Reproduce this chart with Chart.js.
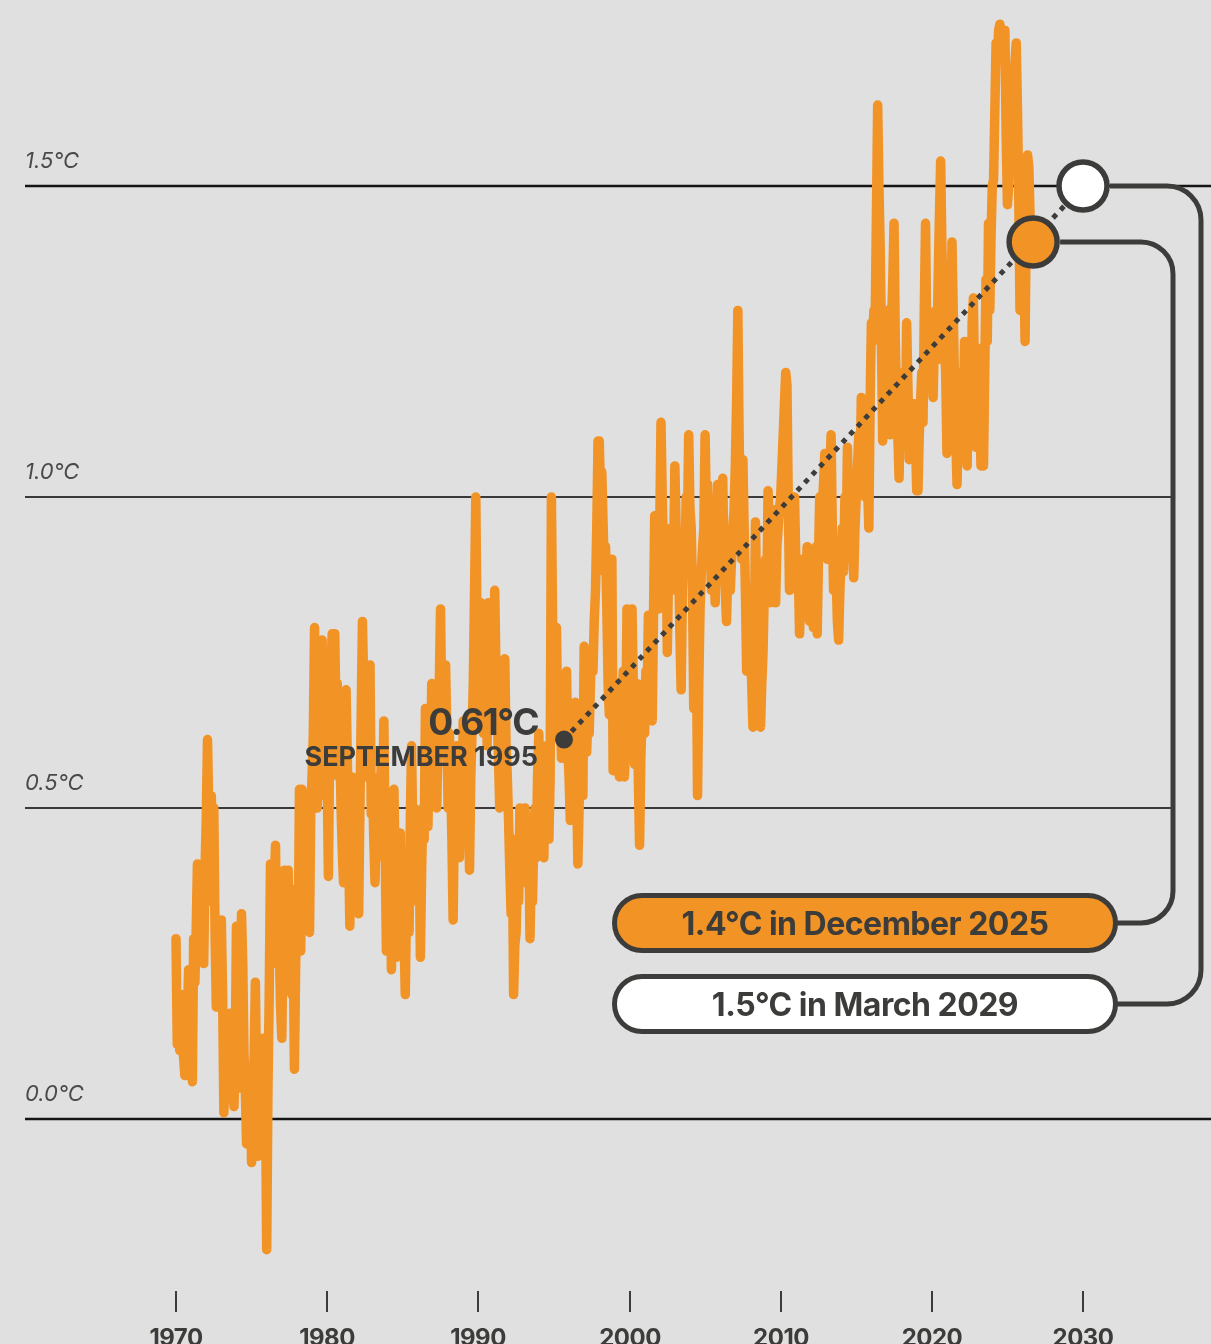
<!DOCTYPE html>
<html>
<head>
<meta charset="utf-8">
<script src="https://cdn.jsdelivr.net/npm/chart.js@4.4.1/dist/chart.umd.min.js"></script>
<style>
  html, body { margin: 0; padding: 0; background: #e0e0e0; }
  canvas { display: block; }
</style>
</head>
<body>
<canvas id="warmingChart" width="1211" height="1344"></canvas>
<script>
// Monthly temperature anomaly (°C), one row per year, first value = January 1970
var anom1970s = [
  0.29, 0.12, 0.17, 0.11, 0.20, 0.14, 0.10, 0.07, 0.13, 0.16, 0.24, 0.12,
  0.15, 0.06, 0.29, 0.22, 0.30, 0.41, 0.38, 0.27, 0.35, 0.30, 0.25, 0.40,
  0.48, 0.61, 0.50, 0.35, 0.52, 0.45, 0.50, 0.30, 0.18, 0.25, 0.22, 0.30,
  0.32, 0.20, 0.01, 0.10, 0.15, 0.05, 0.12, 0.17, 0.03, 0.15, 0.02, 0.10,
  0.31, 0.15, 0.22, 0.05, 0.33, 0.25, 0.10, 0.05, -0.04, 0.08, 0.02, 0.05,
  -0.07, 0.05, 0.10, 0.22, 0.05, -0.06, 0.02, -0.04, 0.08, 0.13, 0.00, 0.05,
  -0.21, 0.05, 0.20, 0.41, 0.30, 0.35, 0.38, 0.44, 0.25, 0.35, 0.28, 0.18,
  0.13, 0.30, 0.40, 0.36, 0.39, 0.40, 0.32, 0.37, 0.20, 0.30, 0.08, 0.25,
  0.35, 0.28, 0.53, 0.27, 0.53, 0.40, 0.45, 0.35, 0.45, 0.38, 0.30, 0.50,
  0.55, 0.62, 0.79, 0.60, 0.50, 0.55, 0.62, 0.58, 0.77, 0.60, 0.52, 0.58
];
var anom1980s = [
  0.55, 0.39, 0.60, 0.72, 0.78, 0.75, 0.78, 0.65, 0.70, 0.55, 0.62, 0.50,
  0.43, 0.38, 0.55, 0.69, 0.58, 0.45, 0.31, 0.48, 0.55, 0.42, 0.50, 0.40,
  0.45, 0.33, 0.50, 0.65, 0.80, 0.70, 0.62, 0.55, 0.72, 0.60, 0.73, 0.49,
  0.55, 0.45, 0.38, 0.50, 0.42, 0.55, 0.48, 0.58, 0.50, 0.64, 0.45, 0.27,
  0.35, 0.30, 0.42, 0.24, 0.38, 0.53, 0.40, 0.26, 0.35, 0.40, 0.46, 0.32,
  0.38, 0.30, 0.20, 0.35, 0.42, 0.30, 0.48, 0.60, 0.45, 0.50, 0.40, 0.35,
  0.40, 0.45, 0.26, 0.40, 0.50, 0.45, 0.66, 0.55, 0.47, 0.60, 0.55, 0.70,
  0.60, 0.55, 0.65, 0.50, 0.62, 0.70, 0.82, 0.65, 0.72, 0.60, 0.73, 0.62,
  0.50, 0.62, 0.55, 0.45, 0.32, 0.50, 0.45, 0.60, 0.52, 0.42, 0.55, 0.50,
  0.64, 0.55, 0.48, 0.60, 0.52, 0.40, 0.55, 0.62, 0.70, 0.85, 1.00, 0.78
];
var anom1990s = [
  0.70, 0.65, 0.83, 0.75, 0.62, 0.70, 0.78, 0.60, 0.83, 0.72, 0.66, 0.75,
  0.70, 0.85, 0.72, 0.65, 0.58, 0.50, 0.62, 0.55, 0.68, 0.74, 0.60, 0.55,
  0.48, 0.40, 0.33, 0.45, 0.20, 0.28, 0.30, 0.40, 0.35, 0.50, 0.42, 0.38,
  0.42, 0.50, 0.45, 0.38, 0.48, 0.29, 0.40, 0.35, 0.45, 0.50, 0.42, 0.55,
  0.62, 0.50, 0.55, 0.45, 0.42, 0.55, 0.60, 0.48, 0.45, 0.55, 1.00, 0.79,
  0.75, 0.62, 0.79, 0.65, 0.70, 0.65, 0.58, 0.62, 0.61, 0.68, 0.72, 0.60,
  0.55, 0.48, 0.62, 0.55, 0.60, 0.67, 0.55, 0.41, 0.50, 0.62, 0.55, 0.52,
  0.76, 0.65, 0.59, 0.65, 0.62, 0.70, 0.75, 0.72, 0.80, 0.85, 0.95, 1.09,
  1.09, 1.00, 1.04, 0.96, 0.88, 0.92, 0.82, 0.70, 0.65, 0.80, 0.90, 0.56,
  0.60, 0.58, 0.70, 0.62, 0.55, 0.65, 0.60, 0.72, 0.55, 0.62, 0.82, 0.65
];
var anom2000s = [
  0.60, 0.68, 0.82, 0.70, 0.57, 0.62, 0.70, 0.55, 0.44, 0.58, 0.65, 0.70,
  0.62, 0.72, 0.68, 0.81, 0.70, 0.75, 0.64, 0.80, 0.97, 0.85, 0.88, 0.82,
  0.95, 1.12, 1.00, 0.90, 0.85, 0.95, 0.75, 0.88, 0.92, 0.85, 0.95, 0.90,
  1.05, 0.95, 0.85, 0.90, 0.78, 0.69, 0.85, 0.92, 0.88, 1.00, 0.95, 1.10,
  0.98, 0.95, 0.85, 0.66, 0.75, 0.80, 0.52, 0.70, 0.82, 0.88, 0.92, 0.95,
  1.10, 0.98, 1.02, 0.92, 0.95, 0.85, 0.90, 0.88, 0.83, 0.95, 1.02, 0.92,
  0.88, 0.92, 1.03, 0.90, 0.85, 0.80, 0.88, 0.92, 0.85, 0.90, 0.95, 0.98,
  1.05, 1.15, 1.30, 1.10, 0.95, 0.90, 1.06, 0.95, 0.85, 0.72, 0.80, 0.75,
  0.78, 0.70, 0.63, 0.75, 0.96, 0.82, 0.72, 0.80, 0.63, 0.70, 0.75, 0.85,
  0.90, 0.85, 1.01, 0.95, 0.83, 0.90, 0.98, 0.88, 0.83, 0.92, 0.95, 0.98
];
var anom2010s = [
  1.00, 1.05, 1.10, 1.15, 1.20, 1.18, 1.00, 0.85, 0.95, 0.88, 0.92, 1.00,
  0.90, 0.85, 0.88, 0.78, 0.85, 0.90, 0.82, 0.88, 0.85, 0.92, 0.82, 0.80,
  0.82, 0.88, 0.79, 0.85, 0.92, 0.78, 0.90, 1.00, 0.95, 0.98, 1.02, 1.07,
  0.98, 0.90, 0.95, 1.02, 1.10, 0.95, 0.85, 0.92, 0.88, 0.80, 0.77, 0.85,
  0.90, 0.95, 0.88, 1.00, 0.92, 1.08, 0.98, 0.95, 0.90, 1.00, 0.87, 0.95,
  1.00, 1.05, 1.10, 1.02, 1.16, 1.05, 1.12, 1.00, 1.08, 1.02, 0.95, 1.15,
  1.28, 1.25, 1.30, 1.28, 1.45, 1.63, 1.50, 1.40, 1.25, 1.09, 1.20, 1.25,
  1.30, 1.15, 1.22, 1.10, 1.28, 1.35, 1.44, 1.25, 1.15, 1.10, 1.03, 1.18,
  1.12, 1.20, 1.15, 1.10, 1.28, 1.18, 1.06, 1.15, 1.12, 1.08, 1.15, 1.10,
  1.01, 1.01, 1.10, 1.15, 1.20, 1.12, 1.30, 1.44, 1.25, 1.20, 1.28, 1.22
];
var anom2020s = [
  1.20, 1.16, 1.25, 1.30, 1.22, 1.35, 1.45, 1.54, 1.40, 1.30, 1.25, 1.20,
  1.07, 1.15, 1.20, 1.25, 1.41, 1.30, 1.18, 1.10, 1.02, 1.12, 1.20, 1.15,
  1.08, 1.15, 1.25, 1.12, 1.05, 1.18, 1.20, 1.10, 1.28, 1.32, 1.15, 1.08,
  1.10, 1.20, 1.15, 1.05, 1.24, 1.05, 1.20, 1.35, 1.25, 1.44, 1.30, 1.42,
  1.50, 1.51, 1.62, 1.73, 1.70, 1.75, 1.76, 1.72, 1.74, 1.70, 1.75, 1.58,
  1.47, 1.50, 1.60, 1.53, 1.55, 1.65, 1.70, 1.73, 1.62, 1.48, 1.30, 1.52,
  1.50, 1.40, 1.25, 1.45, 1.55, 1.53, 1.45, 1.38, 1.41
];
var startYear = 1970;

var gridValues = [0, 0.5, 1.0, 1.5];
var gridLabels = ["0.0°C", "0.5°C", "1.0°C", "1.5°C"];
var tickYears = [1970, 1980, 1990, 2000, 2010, 2020, 2030];

// annotated points
var pointStart = { x: 1995 + 8 / 12, y: 0.61 };  // September 1995
var pointNow = { x: 2026.7, y: 1.41 };
var pointTarget = { x: 2030, y: 1.5 };
var startLabel = ["0.61°C", "SEPTEMBER 1995"];
var pillLabels = ["1.4°C in December 2025", "1.5°C in March 2029"];

var ORANGE = "#f29326";
var DARK = "#3c3c3a";
var BG = "#e0e0e0";
var FONT = "Inter, 'Liberation Sans', sans-serif";

var allMonths = anom1970s.concat(anom1980s, anom1990s, anom2000s, anom2010s, anom2020s);
var series = allMonths.map(function (v, i) {
  return { x: startYear + i / 12, y: v };
});

function pill(c, x, y, w, h, fill) {
  var r = h / 2;
  c.beginPath();
  c.moveTo(x + r, y);
  c.lineTo(x + w - r, y);
  c.arc(x + w - r, y + r, r, -Math.PI / 2, Math.PI / 2);
  c.lineTo(x + r, y + h);
  c.arc(x + r, y + r, r, Math.PI / 2, Math.PI * 1.5);
  c.closePath();
  c.fillStyle = fill;
  c.fill();
  c.lineWidth = 5;
  c.strokeStyle = DARK;
  c.stroke();
}

function connector(c, x0, y0, xv, y1, x1, r) {
  c.beginPath();
  c.moveTo(x0, y0);
  c.arcTo(xv, y0, xv, y1, r);
  c.arcTo(xv, y1, x1, y1, r);
  c.lineTo(x1, y1);
  c.stroke();
}

var decor = {
  id: "decor",
  beforeDraw: function (chart) {
    var c = chart.ctx;
    c.save();
    c.fillStyle = BG;
    c.fillRect(0, 0, chart.width, chart.height);
    c.restore();
  },
  beforeDatasetsDraw: function (chart) {
    var c = chart.ctx;
    var ys = chart.scales.y;
    c.save();
    gridValues.forEach(function (v, i) {
      var py = Math.round(ys.getPixelForValue(v));
      var strong = v === 0 || v === 1.5;
      c.beginPath();
      c.lineWidth = strong ? 2.5 : 2;
      c.strokeStyle = strong ? "#151515" : "#3a3a3a";
      c.moveTo(25, py);
      c.lineTo(strong ? chart.width : 1173, py);
      c.stroke();
      c.font = "italic 22px " + FONT;
      c.letterSpacing = "0px";
      c.fillStyle = "#4a4a4a";
      c.textAlign = "left";
      c.fillText(gridLabels[i], 25, py - 18);
    });
    c.restore();
  },
  afterDatasetsDraw: function (chart) {
    var c = chart.ctx;
    var xs = chart.scales.x, ys = chart.scales.y;
    c.save();

    // connectors from the two circles to the pills
    var nx = xs.getPixelForValue(pointNow.x), ny = ys.getPixelForValue(pointNow.y);
    var tx = xs.getPixelForValue(pointTarget.x), ty = ys.getPixelForValue(pointTarget.y);
    c.lineWidth = 5;
    c.strokeStyle = DARK;
    connector(c, tx + 27, ty, 1201, 1004, 1116, 34);
    connector(c, nx + 27, ny, 1173, 923, 1116, 32);

    // pills
    pill(c, 614.5, 895.5, 501, 55, ORANGE);
    pill(c, 614.5, 976.5, 501, 55, "#ffffff");
    c.font = "bold 32px " + FONT;
    c.letterSpacing = "-0.5px";
    c.fillStyle = DARK;
    c.textAlign = "center";
    c.fillText(pillLabels[0], 865, 935);
    c.fillText(pillLabels[1], 865, 1016);

    // start point label
    c.textAlign = "right";
    c.font = "bold 37px " + FONT;
    c.letterSpacing = "-1.5px";
    c.fillText(startLabel[0], 538, 735);
    c.font = "bold 27px " + FONT;
    c.letterSpacing = "0px";
    c.fillText(startLabel[1], 538, 766);

    // x axis ticks
    c.textAlign = "center";
    c.font = "bold 24px " + FONT;
    c.letterSpacing = "-0.5px";
    c.lineWidth = 2;
    tickYears.forEach(function (yr) {
      var px = Math.round(xs.getPixelForValue(yr));
      c.beginPath();
      c.moveTo(px, 1291);
      c.lineTo(px, 1312);
      c.stroke();
      c.fillText(String(yr), px, 1346);
    });
    c.restore();
  }
};

var ctx = document.getElementById("warmingChart").getContext("2d");

var warmingChart = new Chart(ctx, {
  type: "line",
  data: {
    datasets: [
      {
        // circles for today and the 1.5°C crossing
        data: [pointNow, pointTarget],
        showLine: false,
        pointRadius: 24,
        pointHoverRadius: 24,
        pointBackgroundColor: [ORANGE, "#ffffff"],
        pointBorderColor: DARK,
        pointBorderWidth: 5.5,
        order: 1,
      },
      {
        // dotted trend from September 1995 onward
        data: [pointStart, pointTarget],
        borderColor: DARK,
        borderWidth: 5,
        borderDash: [5, 6],
        borderCapStyle: "butt",
        pointRadius: [9, 0],
        pointBackgroundColor: DARK,
        pointBorderWidth: 0,
        order: 2,
      },
      {
        data: series,
        borderColor: ORANGE,
        borderWidth: 9.5,
        borderJoinStyle: "round",
        borderCapStyle: "round",
        pointRadius: 0,
        tension: 0,
        order: 3,
      },
    ],
  },
  options: {
    responsive: false,
    animation: false,
    devicePixelRatio: 1,
    layout: { padding: 0, autoPadding: false },
    plugins: {
      legend: { display: false },
      tooltip: { enabled: false },
    },
    scales: {
      x: { type: "linear", min: 1958.357, max: 2038.467, display: false },
      y: { type: "linear", min: -0.3617, max: 1.799, display: false },
    },
  },
  plugins: [decor],
});
</script>
</body>
</html>
